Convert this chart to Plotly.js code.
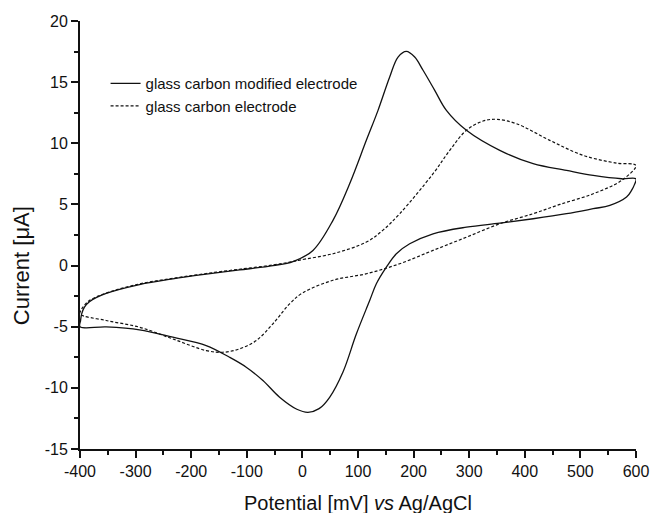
<!DOCTYPE html>
<html>
<head>
<meta charset="utf-8">
<script src="https://cdn.plot.ly/plotly-3.0.1.min.js"></script>
<style>html,body{margin:0;padding:0;background:#fff;}</style>
</head>
<body>
<div id="chart" style="width:651px;height:513px;"></div>
<script>
// Glass carbon modified electrode (solid): potential (mV), current (µA), along the scan
const modX = [-400, -399, -397, -392, -383, -353, -293, -233, -173, -113, -53, -17, 19, 55, 85, 115, 136, 157, 172, 187, 202, 217, 238, 259, 295, 355, 415, 475, 523, 574, 600,
              597, 592, 583, 553, 523, 475, 415, 355, 295, 235, 193, 169, 151, 133, 121, 97, 73, 49, 30, 10, -10, -41, -71, -101, -131, -173, -233, -293, -353, -400];
const modY = [-5.0, -4.5, -3.95, -3.4, -2.95, -2.28, -1.55, -1.08, -0.7, -0.36, 0.0, 0.33, 1.24, 3.7, 6.69, 10.24, 12.69, 15.42, 17.05, 17.52, 17.05, 15.97, 14.33, 12.69, 11.06, 9.42, 8.33, 7.78, 7.37, 7.1, 7.1,
              6.6, 6.15, 5.6, 4.92, 4.65, 4.24, 3.83, 3.47, 3.14, 2.6, 1.78, 0.97, -0.13, -1.49, -2.86, -5.6, -8.7, -10.77, -11.7, -12.0, -11.75, -10.77, -9.4, -8.31, -7.5, -6.54, -5.86, -5.25, -5.02, -5.0];

// Glass carbon electrode (dashed)
const bareX = [-400, -397, -392, -383, -353, -293, -233, -173, -113, -53, -17, -5, 55, 115, 145, 175, 235, 265, 295, 325, 349, 385, 445, 505, 565, 600,
               574, 523, 463, 415, 355, 295, 235, 175, 115, 55, 0, -23, -53, -83, -113, -143, -173, -233, -293, -353, -400];
const bareY = [-3.95, -3.55, -3.25, -2.85, -2.25, -1.5, -1.05, -0.65, -0.3, 0.05, 0.33, 0.45, 0.97, 1.92, 2.9, 4.24, 7.51, 9.42, 11.06, 11.82, 11.96, 11.6, 10.24, 9.01, 8.38, 8.19,
               6.96, 5.87, 5.0, 4.24, 3.42, 2.32, 1.24, 0.15, -0.67, -1.2, -2.25, -3.13, -4.76, -6.13, -6.81, -7.09, -6.95, -6.0, -5.04, -4.49, -3.95];

const seriesNames = ["glass carbon modified electrode", "glass carbon electrode"];

// Tick labels (hyphen-minus as in the original)
const xTickVals = [-400, -300, -200, -100, 0, 100, 200, 300, 400, 500, 600];
const xTickText = ["-400", "-300", "-200", "-100", "0", "100", "200", "300", "400", "500", "600"];
const yTickVals = [-15, -10, -5, 0, 5, 10, 15, 20];
const yTickText = ["-15", "-10", "-5", "0", "5", "10", "15", "20"];

const traces = [
  {x: modX, y: modY, name: seriesNames[0], mode: "lines",
   line: {color: "#111", width: 1.3, shape: "spline", smoothing: 1.0}},
  {x: bareX, y: bareY, name: seriesNames[1], mode: "lines",
   line: {color: "#111", width: 1.2, dash: "3px,2px", shape: "spline", smoothing: 1.0}}
];

const fontFam = "Liberation Sans, Arial, sans-serif";
const layout = {
  width: 651, height: 513, autosize: false,
  margin: {l: 80, r: 15, t: 21, b: 64, pad: 0},
  paper_bgcolor: "#fff", plot_bgcolor: "#fff",
  font: {family: fontFam, color: "#111"},
  showlegend: true,
  legend: {x: 0.046, y: 0.892, xanchor: "left", yanchor: "top",
           bgcolor: "rgba(0,0,0,0)", borderwidth: 0,
           font: {size: 15, family: fontFam, color: "#111"}},
  xaxis: {range: [-400, 600], tickmode: "array", tickvals: xTickVals, ticktext: xTickText,
          showgrid: false, zeroline: false,
          showline: true, linecolor: "#111", linewidth: 2, ticks: "outside", ticklen: 7, tickwidth: 2, tickcolor: "#111",
          tickfont: {size: 16, family: fontFam, color: "#111"},
          minor: {tickmode: "linear", tick0: -400, dtick: 50, ticks: "outside", ticklen: 4, tickwidth: 2, tickcolor: "#111", showgrid: false}},
  yaxis: {range: [-15, 20], tickmode: "array", tickvals: yTickVals, ticktext: yTickText,
          showgrid: false, zeroline: false,
          showline: true, linecolor: "#111", linewidth: 2, ticks: "outside", ticklen: 7, tickwidth: 2, tickcolor: "#111",
          tickfont: {size: 16, family: fontFam, color: "#111"},
          minor: {tickmode: "linear", tick0: -15, dtick: 2.5, ticks: "outside", ticklen: 4, tickwidth: 2, tickcolor: "#111", showgrid: false}},
  annotations: [
    {text: "Potential [mV] <i>vs</i> Ag/AgCl", xref: "paper", yref: "paper", x: 0.5, y: -0.126,
     xanchor: "center", yanchor: "middle", showarrow: false, font: {size: 20, family: fontFam, color: "#111"}},
    {text: "Current [μA]", xref: "paper", yref: "paper", x: -0.104, y: 0.4276, textangle: -90,
     xanchor: "center", yanchor: "middle", showarrow: false, font: {size: 22, family: fontFam, color: "#111"}}
  ]
};

Plotly.newPlot("chart", traces, layout, {staticPlot: true, displayModeBar: false});
</script>
</body>
</html>
